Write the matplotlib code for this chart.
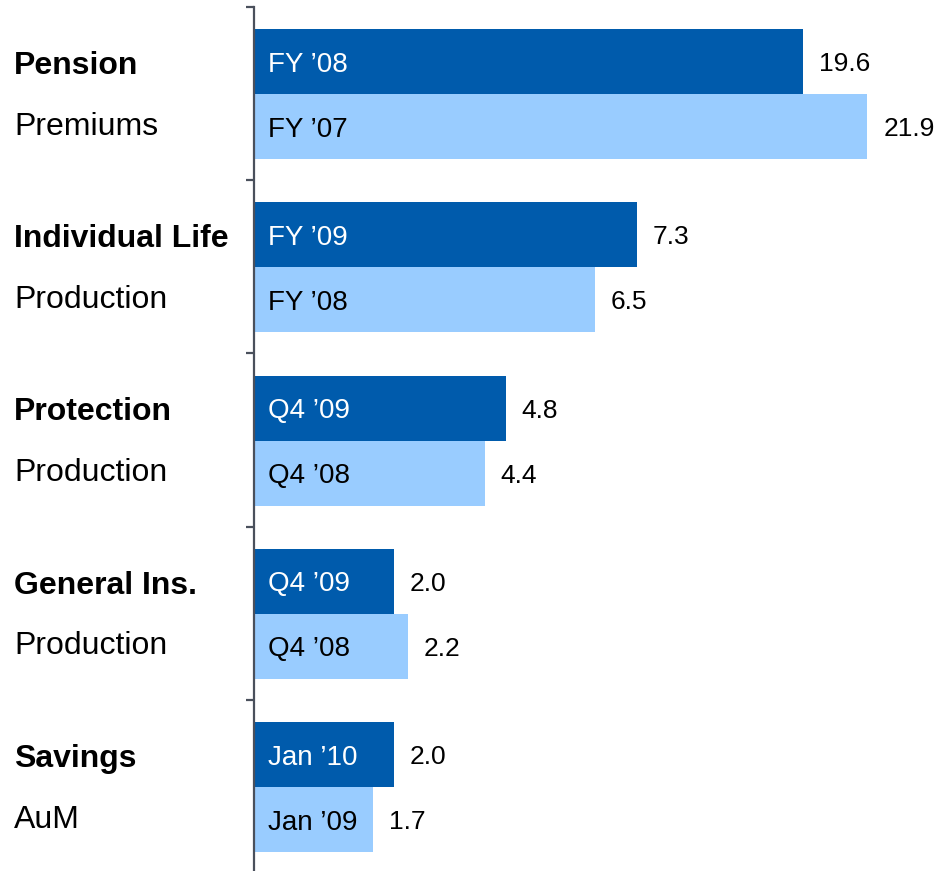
import matplotlib
matplotlib.use("Agg")
import matplotlib.pyplot as plt
from matplotlib.transforms import blended_transform_factory

plt.rcParams['font.family'] = ['Liberation Sans', 'DejaVu Sans']

# Business lines, each compared with the prior period
titles = ["Pension", "Individual Life", "Protection", "General Ins.", "Savings"]
subtitles = ["Premiums", "Production", "Production", "Production", "AuM"]
current_periods = ["FY \u201908", "FY \u201909", "Q4 \u201909", "Q4 \u201909", "Jan \u201910"]
prior_periods = ["FY \u201907", "FY \u201908", "Q4 \u201908", "Q4 \u201908", "Jan \u201909"]
current_values = [19.6, 7.3, 4.8, 2.0, 2.0]
prior_values = [21.9, 6.5, 4.4, 2.2, 1.7]

# every metric has its own unit, so each row gets its own horizontal scale
scale_max = [24.28, 12.95, 12.95, 9.71, 9.71]

DARK = "#005BAC"
LIGHT = "#99CCFF"
AXIS = "#4a505c"

W, H = 934, 871
fig = plt.figure(figsize=(W / 100, H / 100), dpi=100)

group_px = 173.25
top_px = 7
left_px = 253.5
rect = [left_px / W, 1 - (top_px + 5 * group_px) / H,
        (W - left_px) / W, 5 * group_px / H]

n = len(titles)
bar_h = 0.375
for i in range(n):
    ax = fig.add_axes(rect, label=f"row{i}")
    ax.set_facecolor("none")
    ax.axis("off")
    ax.set_ylim(n, 0)
    ax.set_xlim(0, scale_max[i])
    yc, yp = i + 0.315, i + 0.69
    ax.barh(yc, current_values[i], height=bar_h, color=DARK, linewidth=0)
    ax.barh(yp, prior_values[i], height=bar_h, color=LIGHT, linewidth=0)
    for y, v, lab, tc in [(yc, current_values[i], current_periods[i], "white"),
                          (yp, prior_values[i], prior_periods[i], "black")]:
        ax.annotate(lab, (0, y), xytext=(14, 0), textcoords="offset pixels",
                    ha="left", va="center_baseline", fontsize=20, color=tc)
        ax.annotate(f"{v:.1f}", (v, y), xytext=(16, 0), textcoords="offset pixels",
                    ha="left", va="center_baseline", fontsize=19, color="black")

# category axis with separators between rows
axb = fig.add_axes(rect, label="frame", zorder=5)
axb.set_facecolor("none")
axb.set_ylim(n, 0)
axb.set_xlim(0, 1)
for s in ["top", "right", "bottom"]:
    axb.spines[s].set_visible(False)
axb.spines["left"].set_color(AXIS)
axb.spines["left"].set_linewidth(1.6)
axb.set_xticks([])
axb.set_yticks(range(n))
axb.set_yticklabels([])
axb.tick_params(axis="y", length=6, width=1.6, color=AXIS)

tr = blended_transform_factory(fig.transFigure, axb.transData)
for i in range(n):
    axb.text(14 / W, i + 0.32, titles[i], transform=tr, ha="left",
             va="center_baseline", fontsize=23, fontweight="bold", color="black")
    axb.text(14 / W, i + 0.67, subtitles[i], transform=tr, ha="left",
             va="center_baseline", fontsize=23, color="black")

fig.savefig("out.png", dpi=100)
